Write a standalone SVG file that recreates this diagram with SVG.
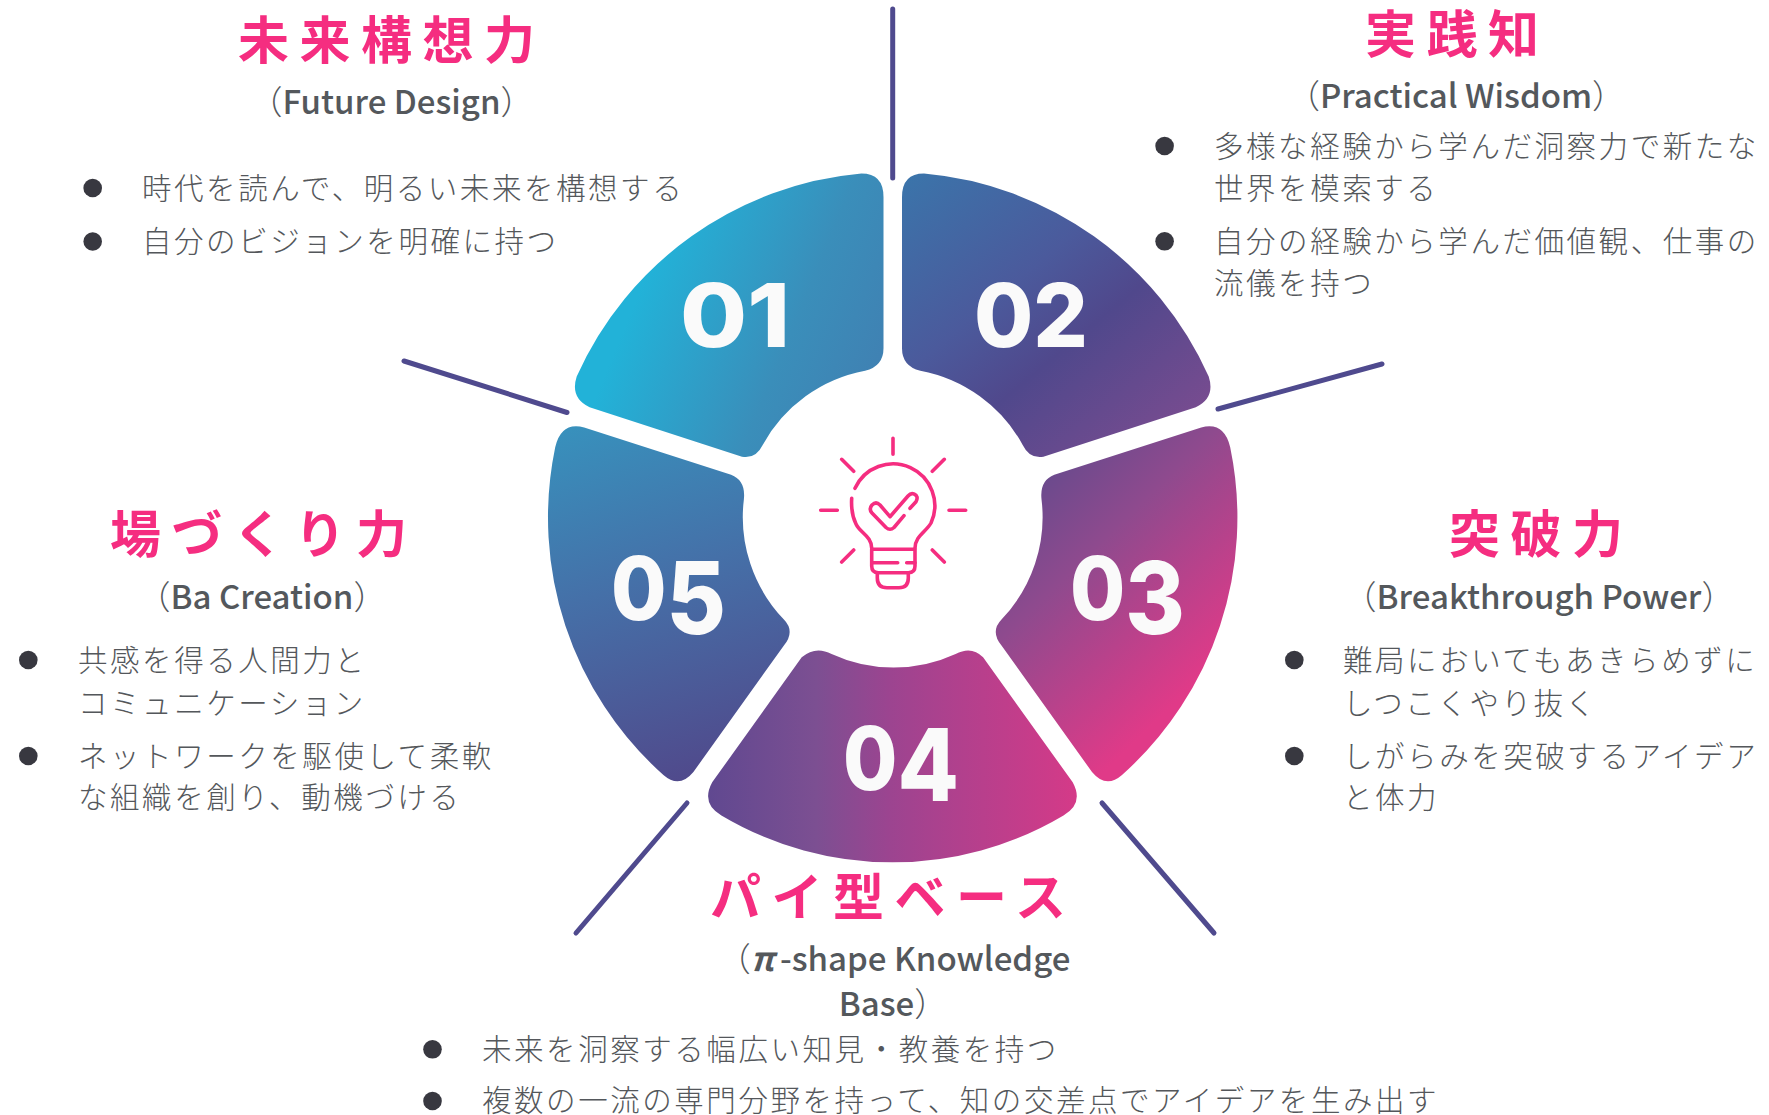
<svg xmlns="http://www.w3.org/2000/svg" width="1769" height="1115" viewBox="0 0 1769 1115">
<style>
text{font-family:"Noto Sans CJK JP","Noto Sans",sans-serif}
.t{font-size:51px;font-weight:700;fill:#f52d80;letter-spacing:10.5px}
.s{font-size:33px;font-weight:500;fill:#54585c;text-anchor:middle}
.p{font-weight:300}
.b{font-size:29.5px;font-weight:300;fill:#54575b;letter-spacing:2.55px}
.d{fill:#383840}
.n{font-family:Inter,"Liberation Sans",sans-serif;font-size:88px;font-weight:800;fill:#fafafa}
.c{stroke:#4f4a8e;stroke-width:5;stroke-linecap:round;fill:none}
.i{stroke:#f52d80;stroke-width:3.6;stroke-linecap:round;stroke-linejoin:round;fill:none}
</style>
<defs>
<linearGradient id="g1" gradientUnits="userSpaceOnUse" x1="640" y1="290" x2="880" y2="390">
<stop offset="0" stop-color="#22b2d8"/><stop offset=".6" stop-color="#3a8eba"/><stop offset="1" stop-color="#4080b2"/>
</linearGradient>
<linearGradient id="g2" gradientUnits="userSpaceOnUse" x1="890" y1="190" x2="1130" y2="480">
<stop offset="0" stop-color="#3b74aa"/><stop offset=".4" stop-color="#4b5a9c"/><stop offset=".62" stop-color="#50488c"/><stop offset="1" stop-color="#7a4c90"/>
</linearGradient>
<linearGradient id="g3" gradientUnits="userSpaceOnUse" x1="661" y1="275" x2="1125" y2="752">
<stop offset=".53" stop-color="#524a8c"/><stop offset=".75" stop-color="#8f4a8e"/><stop offset="1" stop-color="#e03a88"/>
</linearGradient>
<linearGradient id="g4" gradientUnits="userSpaceOnUse" x1="705" y1="800" x2="1075" y2="800">
<stop offset="0" stop-color="#5f4890"/><stop offset=".3" stop-color="#7c4f92"/><stop offset=".5" stop-color="#9c4490"/><stop offset="1" stop-color="#d43a88"/>
</linearGradient>
<linearGradient id="g5" gradientUnits="userSpaceOnUse" x1="570" y1="430" x2="680" y2="780">
<stop offset="0" stop-color="#3890bc"/><stop offset=".45" stop-color="#4570a8"/><stop offset="1" stop-color="#504a8c"/>
</linearGradient>
</defs>
<rect width="1769" height="1115" fill="#fff"/>
<g id="connectors">
<line class="c" x1="892.7" y1="9" x2="892.7" y2="178"/>
<line class="c" x1="1218" y1="409" x2="1382" y2="364"/>
<line class="c" x1="567" y1="412.5" x2="404" y2="361"/>
<line class="c" x1="687" y1="803" x2="576" y2="933"/>
<line class="c" x1="1102" y1="803" x2="1214" y2="933"/>
</g>
<g id="node-01">
<path fill="url(#g1)" d="M861.4 173.6Q883.5 173.6 883.5 197.2L883.5 348.2Q883.5 366.1 865.1 370.8A148 148 0 0 0 762.7 444.9Q755.8 459.1 742 456.7L589.6 407.2Q569.8 397.7 576.7 376.5A345 345 0 0 1 861.4 173.6Z"/>
<text class="n" x="680" y="347" textLength="110" lengthAdjust="spacingAndGlyphs">01</text>
<text class="t" x="238" y="59.2">未来構想力</text>
<text class="s" x="391.5" y="114"><tspan class="p">（</tspan>Future Design<tspan class="p">）</tspan></text>
<circle class="d" cx="92.7" cy="188" r="9.3"/><circle class="d" cx="92.7" cy="241.5" r="9.3"/>
<text class="b" x="142" y="198.6">時代を読んで、明るい未来を構想する</text>
<text class="b" x="142" y="252">自分のビジョンを明確に持つ</text>
</g>
<g id="node-02">
<path fill="url(#g2)" d="M924 173.6Q902 173.6 902 197.2L902 348.2Q902 366.1 920.3 370.8A148 148 0 0 1 1022.7 444.9Q1029.6 459.1 1043.4 456.7L1195.8 407.2Q1215.6 397.7 1208.7 376.5A345 345 0 0 0 924 173.6Z"/>
<text class="n" x="974" y="347" textLength="114" lengthAdjust="spacingAndGlyphs">02</text>
<text class="t" x="1365" y="53">実践知</text>
<text class="s" x="1456" y="107.7"><tspan class="p">（</tspan>Practical Wisdom<tspan class="p">）</tspan></text>
<circle class="d" cx="1164.6" cy="146" r="9.3"/><circle class="d" cx="1164.6" cy="241.3" r="9.3"/>
<text class="b" x="1214" y="156.6">多様な経験から学んだ洞察力で新たな</text>
<text class="b" x="1214" y="199">世界を模索する</text>
<text class="b" x="1214" y="252">自分の経験から学んだ価値観、仕事の</text>
<text class="b" x="1214" y="294">流儀を持つ</text>
</g>
<g id="node-03">
<path fill="url(#g3)" d="M1054.3 474.7L1201.2 427.5Q1224.2 421.3 1230.2 447.3A345 345 0 0 1 1122 775Q1106 789 1092 772L1001.5 645.5Q990 631.3 1001.5 619.5A148 148 0 0 0 1041.5 499.2Q1039.6 480.3 1054.3 474.7Z"/>
<text class="n" x="1070" y="620" textLength="115" lengthAdjust="spacingAndGlyphs">0<tspan dy="14" font-size="100">3</tspan></text>
<text class="t" x="1449" y="553">突破力</text>
<text class="s" x="1539" y="609"><tspan class="p">（</tspan>Breakthrough Power<tspan class="p">）</tspan></text>
<circle class="d" cx="1294.3" cy="660" r="9.3"/><circle class="d" cx="1294.3" cy="756" r="9.3"/>
<text class="b" x="1343" y="670.6">難局においてもあきらめずに</text>
<text class="b" x="1343" y="714">しつこくやり抜く</text>
<text class="b" x="1343" y="766.6">しがらみを突破するアイデア</text>
<text class="b" x="1343" y="808.4">と体力</text>
</g>
<g id="node-04">
<path fill="url(#g4)" d="M801.7 657.3Q815.5 645.5 831.6 654A148 148 0 0 0 955.6 654Q971.6 645.5 983.1 657.3L1072.7 782.3Q1084.2 803.6 1063.5 815.4A335 335 0 0 1 721.4 815.4Q700.7 803.6 712.2 782.3Z"/>
<text class="n" x="843" y="789.5" textLength="116" lengthAdjust="spacingAndGlyphs">0<tspan dy="11.5" font-size="100">4</tspan></text>
<text class="t" x="710" y="916">パイ型ベース</text>
<text class="s" x="894" y="971"><tspan class="p">（</tspan><tspan font-style="italic" font-weight="700">π</tspan><tspan dx="6">-shape Knowledge</tspan></text>
<text class="s" x="893" y="1016">Base<tspan class="p">）</tspan></text>
<circle class="d" cx="432.5" cy="1049.3" r="9.3"/><circle class="d" cx="432.5" cy="1101" r="9.3"/>
<text class="b" x="482" y="1060">未来を洞察する幅広い知見・教養を持つ</text>
<text class="b" x="482" y="1111">複数の一流の専門分野を持って、知の交差点でアイデアを生み出す</text>
</g>
<g id="node-05">
<path fill="url(#g5)" d="M731.1 474.7L584.2 427.5Q561.2 421.3 555.2 447.3A345 345 0 0 0 663.4 775Q679.4 789 693.4 772L783.9 645.5Q795.4 631.3 783.9 619.5A148 148 0 0 1 743.9 499.2Q745.8 480.3 731.1 474.7Z"/>
<text class="n" x="611" y="620" textLength="115" lengthAdjust="spacingAndGlyphs">0<tspan dy="14" font-size="100">5</tspan></text>
<text class="t" x="110" y="553">場づくり力</text>
<text class="s" x="262" y="609"><tspan class="p">（</tspan>Ba Creation<tspan class="p">）</tspan></text>
<circle class="d" cx="28.3" cy="660" r="9.3"/><circle class="d" cx="28.3" cy="756" r="9.3"/>
<text class="b" x="78" y="670.6">共感を得る人間力と</text>
<text class="b" x="78" y="714">コミュニケーション</text>
<text class="b" x="78" y="766.6">ネットワークを駆使して柔軟</text>
<text class="b" x="78" y="808.4">な組織を創り、動機づける</text>
</g>
<g id="icon" class="i">
<path d="M893 438.3V454.3M820.7 510.3H837.3M949 510.3H965.7M841.7 459.3L853.7 471.3M944.3 459.3L932.3 471.3M841.7 562L853.7 550M944.3 562L932.3 550"/>
<path d="M855 488.3A41.7 41.7 0 1 1 931 523C926 532 915 536 915 548.3"/>
<path d="M851.7 498.3C851 510 853 518 856 524C860 533 871.7 536 871.7 548.3"/>
<path d="M871.7 549.3V566Q871.7 572.7 878.3 572.7H908.3Q915 572.7 915 566V549.3Z"/>
<path d="M873.3 562.7H897.7M906.7 562.7H915"/>
<path d="M877.3 573V578Q877.3 587.7 887 587.7H899Q908.3 587.7 908.3 578V573"/>
<path d="M910 508.3L916 501.7Q919 496 914 494Q911 492.5 908 496L890 516.7L880 505Q876 501 872 505Q868.5 509 872 513L886 527.5Q890 531 894 527.5L904 515.7"/>
</g>
</svg>
